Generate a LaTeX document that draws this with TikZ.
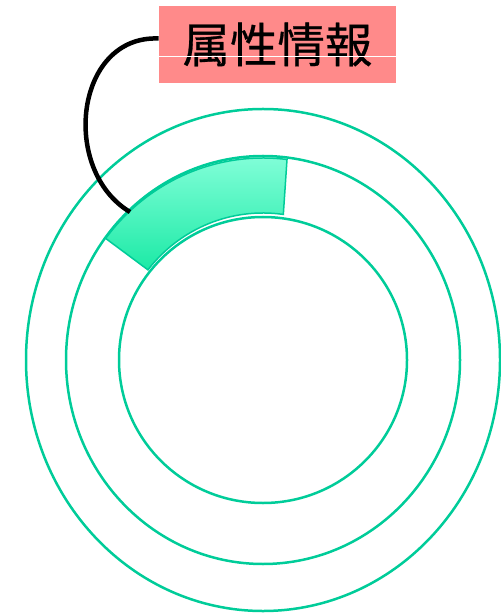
\documentclass[tikz,border=0pt]{standalone}
\usepackage{fontspec}
\newfontfamily\cjk[FakeBold=0.6]{Noto Sans CJK JP}
\usetikzlibrary{calc}
\definecolor{ring}{HTML}{00CC99}
\definecolor{boxred}{HTML}{FF8A8A}
\definecolor{bandtop}{HTML}{86FFDA}
\definecolor{bandbot}{HTML}{1CEAA6}
\tikzset{
  ringline/.style={draw=ring, line width=0.05cm},
  labelbox/.style={fill=boxred, minimum width=4.74cm, minimum height=1.54cm, inner sep=0pt, font=\cjk\fontsize{27}{30}\selectfont},
  connector/.style={line width=0.09cm, black},
}
\begin{document}
\begin{tikzpicture}[x=0.02cm,y=-0.02cm]
\useasboundingbox (0,0) rectangle (500,614);
\coordinate (c) at (263,360);
% rings
\draw[ringline] (c) ellipse [x radius=237, y radius=251];
\draw[ringline] (c) ellipse [x radius=197, y radius=204];
\draw[ringline] (c) ellipse [x radius=144, y radius=143];
% highlighted band
\path[top color=bandtop, bottom color=bandbot, draw=ring, line width=0.03cm]
  ($(c)+(-143:197 and 202)$) arc[start angle=-143, end angle=-83, x radius=197, y radius=202]
  -- ($(c)+(-82:146 and 147)$) arc[start angle=-82, end angle=-142, x radius=146, y radius=148]
  -- cycle;
% label
\node[labelbox] (lab) at (277.5,44.5) {属性情報};
\draw[white, line width=0.02cm] (lab.west |- 0,57) -- (lab.east |- 0,57);
\coordinate (lstart) at ($(lab.west)+(0,-6)$);
\coordinate (bandpt) at (130,212);
\draw[connector] (lstart) .. controls (75,35) and (60,170) .. (bandpt);
\end{tikzpicture}
\end{document}
